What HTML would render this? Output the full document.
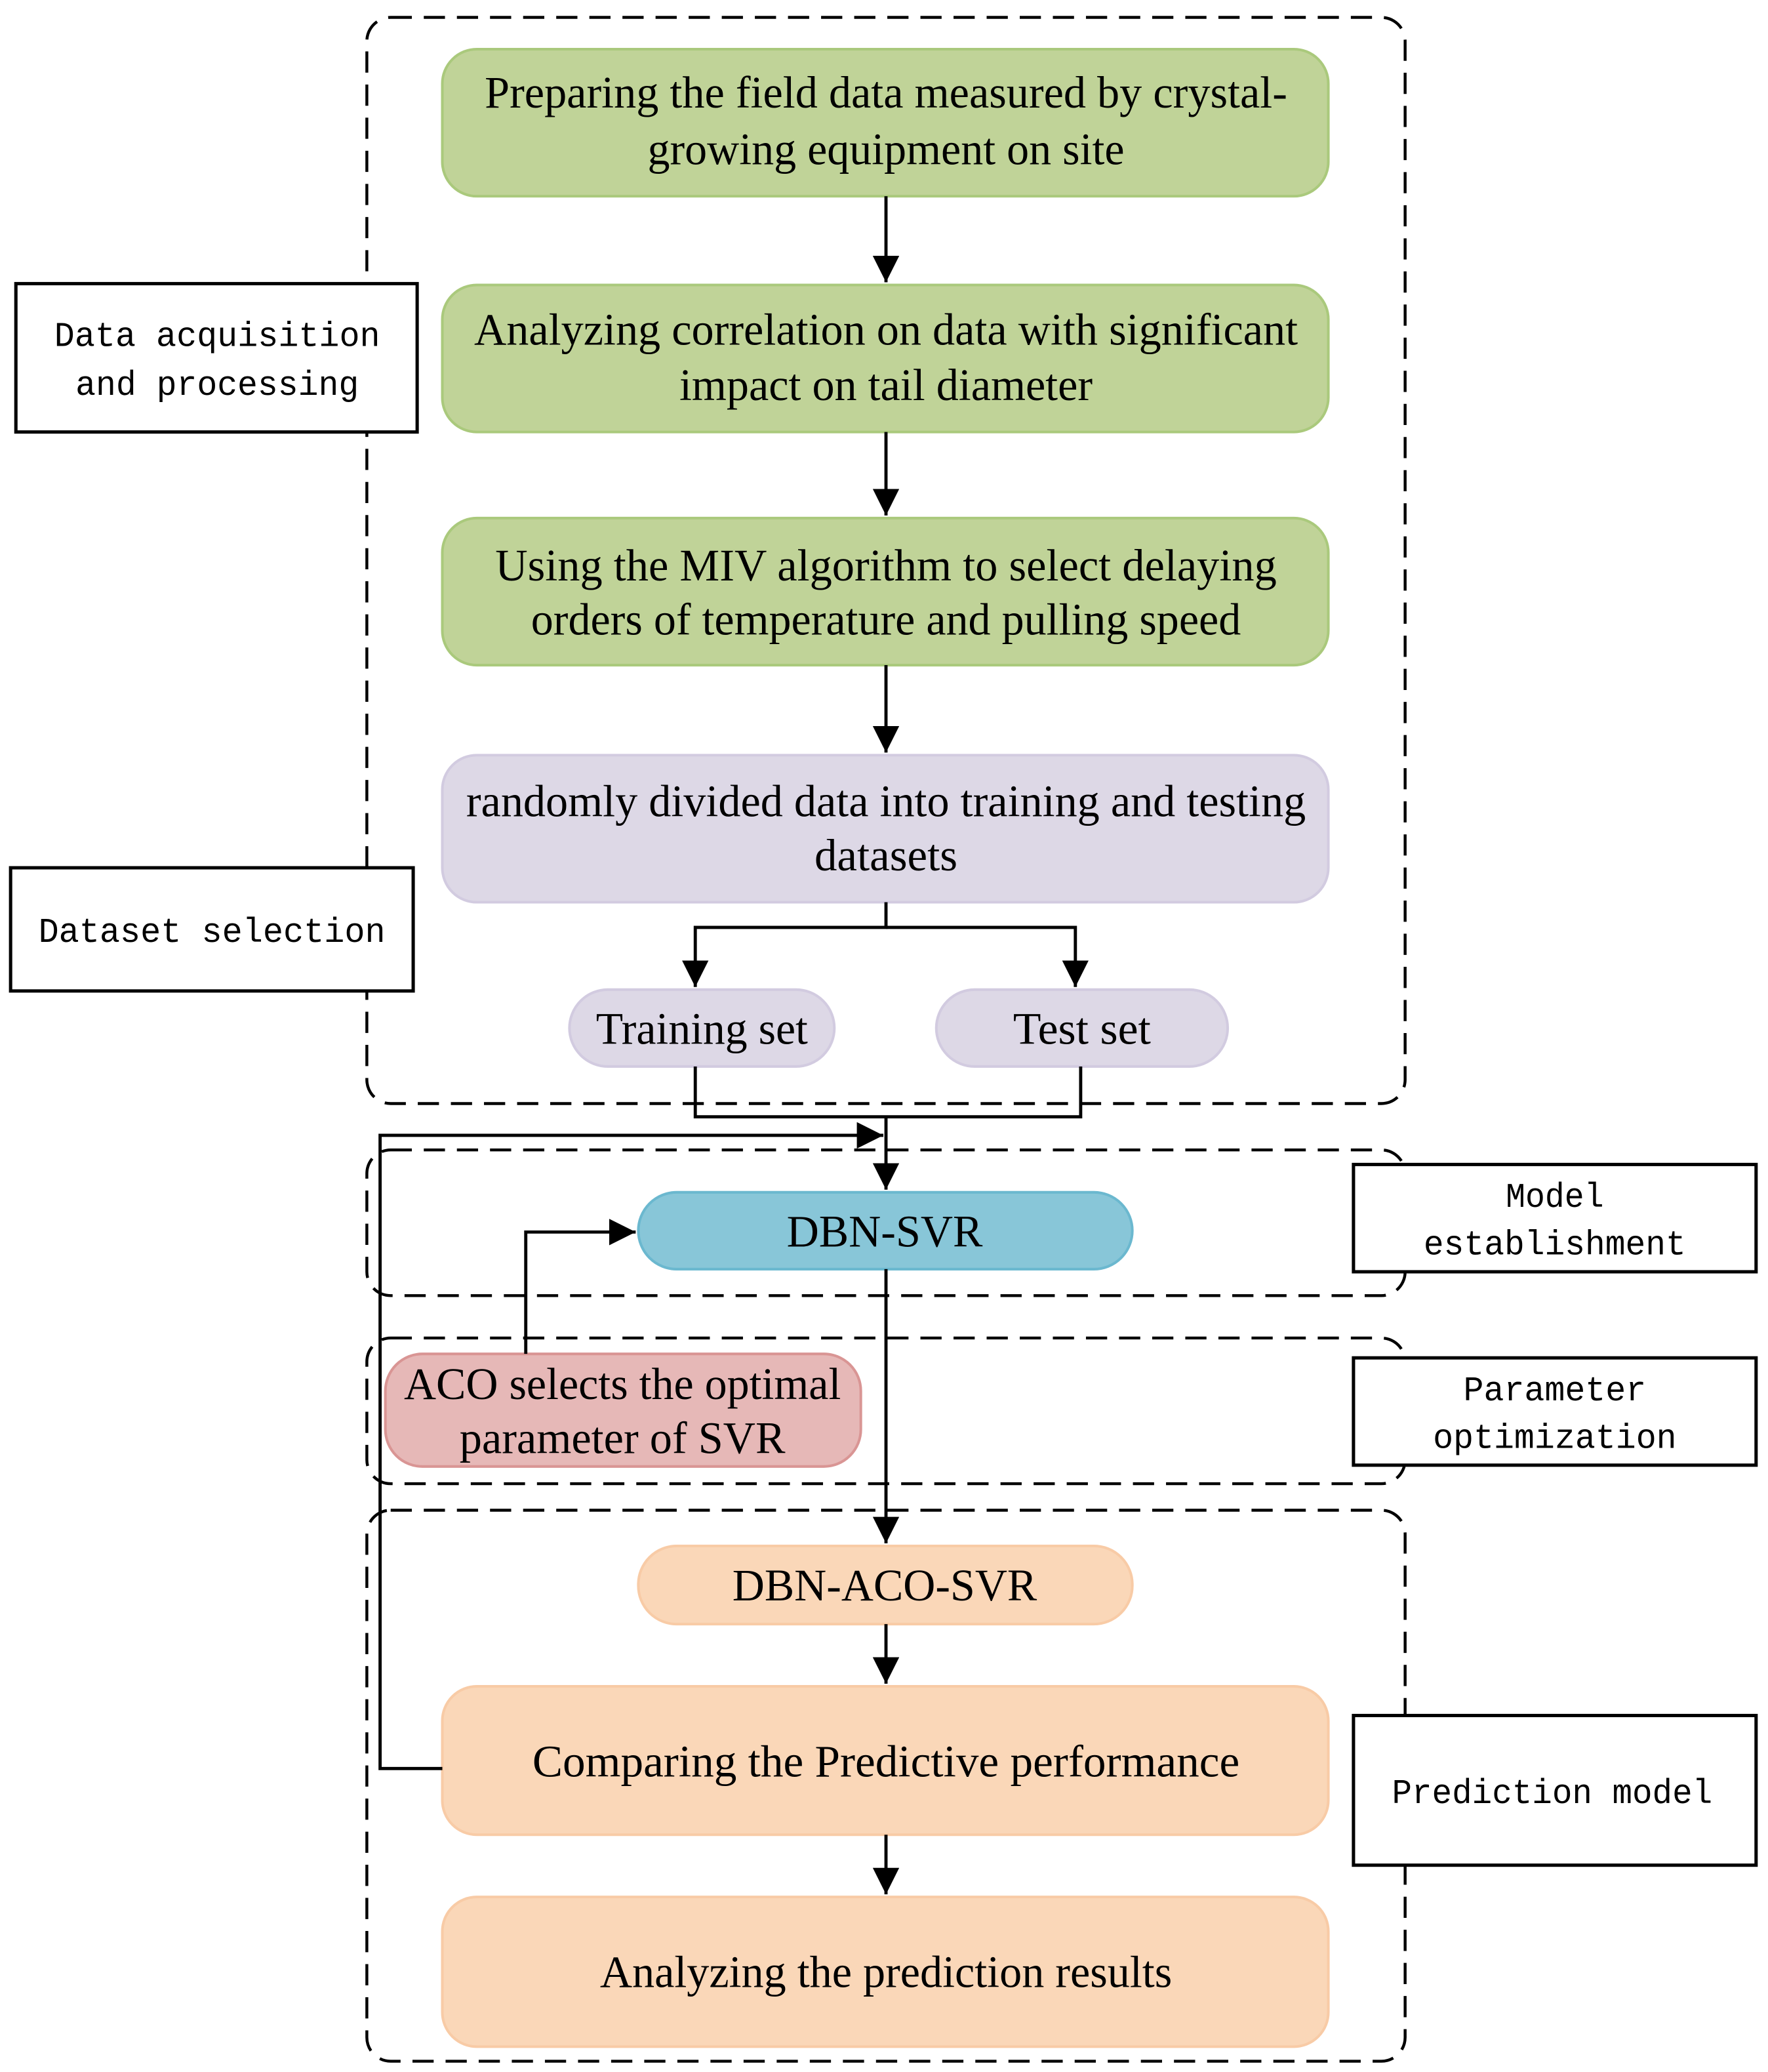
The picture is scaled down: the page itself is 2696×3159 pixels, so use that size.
<!DOCTYPE html>
<html><head><meta charset="utf-8"><style>html,body{margin:0;padding:0;background:#fff}svg{display:block}</style></head>
<body>
<svg xmlns="http://www.w3.org/2000/svg" width="2696" height="3159" viewBox="0 0 1335 1564">
<defs>
<marker id="ah" viewBox="0 0 10 10" refX="10" refY="5" markerWidth="20" markerHeight="20" markerUnits="userSpaceOnUse" orient="auto"><path d="M0,0 L10,5 L0,10 z" fill="#000"/></marker>
</defs>
<rect width="1335" height="1564" fill="#fff"/>
<g fill="none" stroke="#000" stroke-width="2.2" stroke-dasharray="16,9">
<rect x="277" y="13" width="784" height="820" rx="18"/>
<rect x="277" y="868" width="784" height="110" rx="18"/>
<rect x="277" y="1010" width="784" height="110" rx="18"/>
<rect x="277" y="1140" width="784" height="416" rx="18"/>
</g>
<g stroke-width="2">
<rect x="334" y="37" width="669" height="111" rx="26" fill="#c0d398" stroke="#aac97c"/>
<rect x="334" y="215" width="669" height="111" rx="26" fill="#c0d398" stroke="#aac97c"/>
<rect x="334" y="391" width="669" height="111" rx="26" fill="#c0d398" stroke="#aac97c"/>
<rect x="334" y="570" width="669" height="111" rx="26" fill="#ddd8e6" stroke="#d2cbe0"/>
<rect x="430" y="747" width="200" height="58" rx="29" fill="#ddd8e6" stroke="#d2cbe0"/>
<rect x="707" y="747" width="220" height="58" rx="29" fill="#ddd8e6" stroke="#d2cbe0"/>
<rect x="482" y="900" width="373" height="58" rx="29" fill="#88c6d8" stroke="#6bb8cf"/>
<rect x="291" y="1022" width="359" height="85" rx="28" fill="#e6b8b7" stroke="#d99594"/>
<rect x="482" y="1167" width="373" height="59" rx="29" fill="#fad7b8" stroke="#f8cba6"/>
<rect x="334" y="1273" width="669" height="112" rx="26" fill="#fad7b8" stroke="#f8cba6"/>
<rect x="334" y="1432" width="669" height="113" rx="26" fill="#fad7b8" stroke="#f8cba6"/>
</g>
<g fill="#fff" stroke="#000" stroke-width="2.5">
<rect x="12" y="214" width="303" height="112"/>
<rect x="8" y="655" width="304" height="93"/>
<rect x="1022" y="879" width="304" height="81"/>
<rect x="1022" y="1025" width="304" height="81"/>
<rect x="1022" y="1295" width="304" height="113"/>
</g>
<g fill="none" stroke="#000" stroke-width="2.4">
<path d="M669 148 V213" marker-end="url(#ah)"/>
<path d="M669 326 V389" marker-end="url(#ah)"/>
<path d="M669 502 V568" marker-end="url(#ah)"/>
<path d="M669 681 V700 H525 V745" marker-end="url(#ah)"/>
<path d="M669 700 H812 V745" marker-end="url(#ah)"/>
<path d="M525 805 V843 H816 V805"/>
<path d="M669 843 V898" marker-end="url(#ah)"/>
<path d="M334 1335 H287 V857 H667" marker-end="url(#ah)"/>
<path d="M397 1022 V930 H480" marker-end="url(#ah)"/>
<path d="M669 958 V1165" marker-end="url(#ah)"/>
<path d="M669 1226 V1271" marker-end="url(#ah)"/>
<path d="M669 1385 V1430" marker-end="url(#ah)"/>
</g>
<g font-family="'Liberation Serif', serif" font-size="34" fill="#000" text-anchor="middle">
<text x="669" y="81" textLength="606" lengthAdjust="spacingAndGlyphs">Preparing the field data measured by crystal-</text>
<text x="669" y="124" textLength="360" lengthAdjust="spacingAndGlyphs">growing equipment on site</text>
<text x="669" y="260" textLength="622" lengthAdjust="spacingAndGlyphs">Analyzing correlation on data with significant</text>
<text x="669" y="302" textLength="312" lengthAdjust="spacingAndGlyphs">impact on tail diameter</text>
<text x="669" y="438" textLength="590" lengthAdjust="spacingAndGlyphs">Using the MIV algorithm to select delaying</text>
<text x="669" y="479" textLength="536" lengthAdjust="spacingAndGlyphs">orders of temperature and pulling speed</text>
<text x="669" y="616" textLength="634" lengthAdjust="spacingAndGlyphs">randomly divided data into training and testing</text>
<text x="669" y="657" textLength="108" lengthAdjust="spacingAndGlyphs">datasets</text>
<text x="530" y="788" textLength="160" lengthAdjust="spacingAndGlyphs">Training set</text>
<text x="817" y="788" textLength="104" lengthAdjust="spacingAndGlyphs">Test set</text>
<text x="668" y="941" textLength="148" lengthAdjust="spacingAndGlyphs">DBN-SVR</text>
<text x="470" y="1056" textLength="330" lengthAdjust="spacingAndGlyphs">ACO selects the optimal</text>
<text x="470" y="1097" textLength="246" lengthAdjust="spacingAndGlyphs">parameter of SVR</text>
<text x="668" y="1208" textLength="230" lengthAdjust="spacingAndGlyphs">DBN-ACO-SVR</text>
<text x="669" y="1341" textLength="534" lengthAdjust="spacingAndGlyphs">Comparing the Predictive  performance</text>
<text x="669" y="1500" textLength="432" lengthAdjust="spacingAndGlyphs">Analyzing the prediction results</text>
</g>
<g font-family="'Liberation Mono', monospace" font-size="26" fill="#000" text-anchor="middle">
<text x="164" y="261" textLength="246" lengthAdjust="spacingAndGlyphs">Data acquisition</text>
<text x="164" y="298" textLength="214" lengthAdjust="spacingAndGlyphs">and processing</text>
<text x="160" y="711" textLength="262" lengthAdjust="spacingAndGlyphs">Dataset selection</text>
<text x="1174" y="911" textLength="74" lengthAdjust="spacingAndGlyphs">Model</text>
<text x="1174" y="947" textLength="198" lengthAdjust="spacingAndGlyphs">establishment</text>
<text x="1174" y="1057" textLength="138" lengthAdjust="spacingAndGlyphs">Parameter</text>
<text x="1174" y="1093" textLength="184" lengthAdjust="spacingAndGlyphs">optimization</text>
<text x="1172" y="1361" textLength="242" lengthAdjust="spacingAndGlyphs">Prediction model</text>
</g>
</svg>
</body></html>
